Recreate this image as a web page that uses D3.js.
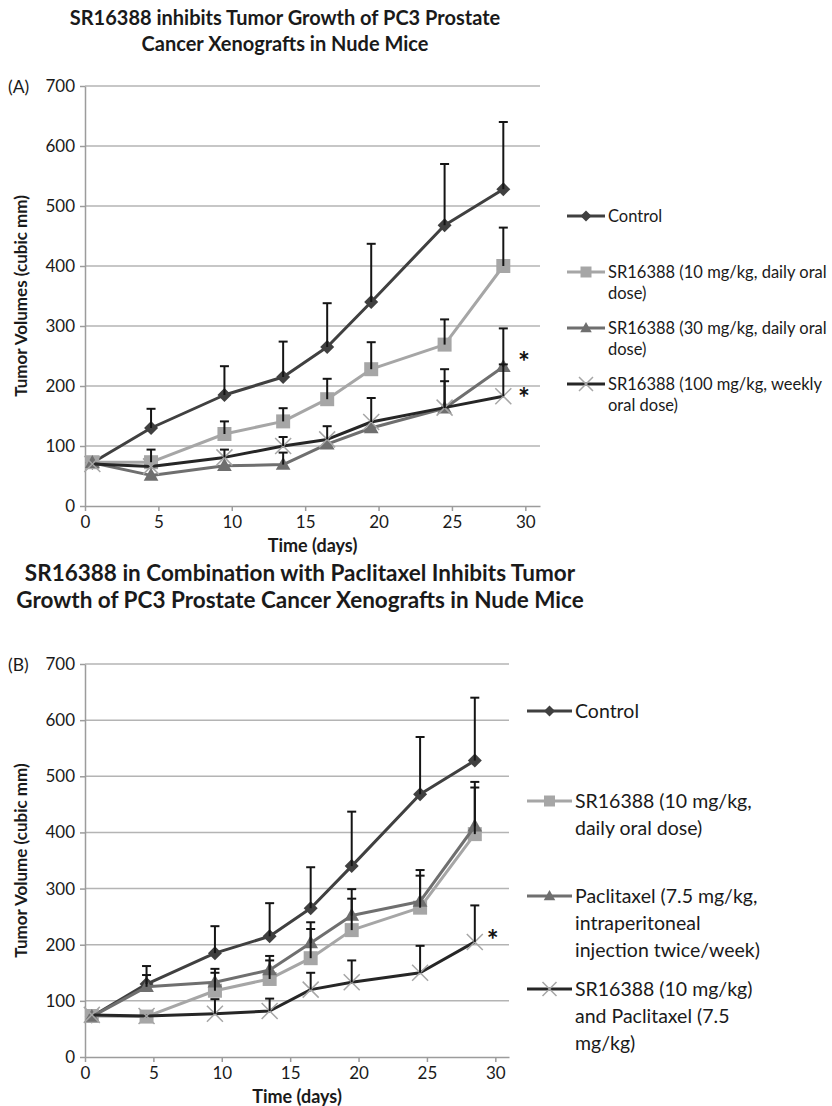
<!DOCTYPE html>
<html>
<head>
<meta charset="utf-8">
<script src="https://cdn.jsdelivr.net/npm/d3@7"></script>
<style>
  body { margin: 0; background: #fff; }
  svg { display: block; font-family: Lato, "Liberation Sans", sans-serif; }
</style>
</head>
<body>
<svg id="chart" width="832" height="1106"></svg>
<script>
// measurement days (same for every group)
const days = [0.5, 4.5, 9.5, 13.5, 16.5, 19.5, 24.5, 28.5];
const xTicks = [0, 5, 10, 15, 20, 25, 30];
const yTicks = [0, 100, 200, 300, 400, 500, 600, 700];

// panel A : mean tumor volume and top of the error bar
const controlA    = [72, 130, 185, 215, 265, 340, 468, 528];
const controlAErr = [72, 162, 233, 274, 338, 437, 570, 640];
const sr10A       = [73, 73, 120, 141, 178, 228, 269, 400];
const sr10AErr    = [73, 94, 141, 163, 212, 273, 311, 464];
const sr30A       = [72, 51, 67, 69, 103, 130, 163, 232];
const sr30AErr    = [72, 51, 67, 89, 103, 130, 208, 296];
const sr100A      = [70, 66, 81, 100, 111, 140, 164, 183];
const sr100AErr   = [70, 66, 94, 115, 133, 180, 228, 236];

// panel B
const controlB    = [72, 130, 185, 215, 265, 340, 468, 528];
const controlBErr = [72, 162, 233, 274, 338, 437, 570, 640];
const sr10B       = [73, 72, 118, 139, 176, 226, 266, 397];
const sr10BErr    = [73, 72, 150, 172, 228, 282, 323, 480];
const paclB       = [72, 125, 133, 155, 203, 252, 277, 411];
const paclBErr    = [72, 146, 157, 180, 240, 299, 333, 490];
const comboB      = [75, 73, 77, 82, 120, 133, 150, 205];
const comboBErr   = [75, 73, 103, 104, 150, 172, 198, 270];

// significance stars [day, volume]
const starsA = [[29.9, 247], [29.9, 186]];
const starsB = [[29.8, 216]];

const svg = d3.select('#chart');

// series looks
let styles = {
  diamond:  { line: '#404040', fill: '#404040', stroke: 'none' },
  square:   { line: '#a6a6a6', fill: '#a6a6a6', stroke: 'none' },
  triangle: { line: '#6f6f6f', fill: '#6f6f6f', stroke: 'none' },
  cross:    { line: '#262626', fill: 'none', stroke: '#a6a6a6' }
};

function markerPath(shape, r) {
  if (shape === 'diamond') return 'M0,' + (-r) + 'L' + r + ',0L0,' + r + 'L' + (-r) + ',0Z';
  if (shape === 'square') return 'M' + (-r) + ',' + (-r) + 'H' + r + 'V' + r + 'H' + (-r) + 'Z';
  if (shape === 'triangle') return 'M0,' + (-r * 1.1) + 'L' + (r * 1.05) + ',' + (r * 0.75) + 'L' + (-r * 1.05) + ',' + (r * 0.75) + 'Z';
  return 'M' + (-r) + ',' + (-r) + 'L' + r + ',' + r + 'M' + (-r) + ',' + r + 'L' + r + ',' + (-r);
}

function drawPanel(p) {
  let g = svg.append('g');

  let xScale = d3.scaleLinear().domain([0, 31]).range([p.left, p.right]);
  let yScale = d3.scaleLinear().domain([0, 700]).range([p.bottom, p.top]);

  // title
  p.title.forEach(function(t, i) {
    g.append('text')
      .attr('x', p.titleX).attr('y', p.titleY[i])
      .attr('text-anchor', 'middle')
      .attr('font-weight', 'bold')
      .attr('font-size', p.titleSize)
      .attr('fill', '#1a1a1a')
      .text(t);
  });

  g.append('text')
    .attr('x', 8).attr('y', p.top + 7)
    .attr('font-size', 17.5).attr('fill', '#1a1a1a')
    .text(p.tag);

  // gridlines
  g.append('g')
    .selectAll('line')
    .data(yTicks.slice(1))
    .enter().append('line')
    .attr('x1', p.left).attr('x2', p.right)
    .attr('y1', function(d) { return yScale(d); })
    .attr('y2', function(d) { return yScale(d); })
    .attr('stroke', '#b4b4b4').attr('stroke-width', 1.5);

  // axes
  let xAxis = g.append('g')
    .attr('transform', 'translate(0,' + p.bottom + ')')
    .call(d3.axisBottom(xScale).tickValues(xTicks).tickSize(5).tickPadding(5).tickSizeOuter(0));
  let yAxis = g.append('g')
    .attr('transform', 'translate(' + p.left + ',0)')
    .call(d3.axisLeft(yScale).tickValues(yTicks).tickSize(5).tickPadding(5).tickSizeOuter(0));
  [xAxis, yAxis].forEach(function(a) {
    a.selectAll('path, line').attr('stroke', '#9c9c9c').attr('stroke-width', 1.5);
    a.selectAll('text').attr('font-size', 17).attr('fill', '#1a1a1a').attr('font-family', 'Lato, sans-serif');
  });

  // axis titles
  g.append('text')
    .attr('x', (p.left + p.right) / 2).attr('y', p.bottom + 46)
    .attr('text-anchor', 'middle').attr('font-weight', 'bold').attr('font-size', 18)
    .attr('fill', '#1a1a1a')
    .text('Time (days)');
  g.append('text')
    .attr('transform', 'translate(' + 27 + ',' + ((p.top + p.bottom) / 2) + ') rotate(-90)')
    .attr('text-anchor', 'middle').attr('font-weight', 'bold').attr('font-size', 17)
    .attr('fill', '#1a1a1a')
    .text(p.yTitle);

  let line = d3.line()
    .x(function(d, i) { return xScale(days[i]); })
    .y(function(d) { return yScale(d); });

  // series lines and markers
  p.series.forEach(function(s) {
    let st = styles[s.shape];
    g.append('path')
      .datum(s.values)
      .attr('d', line)
      .attr('fill', 'none')
      .attr('stroke', st.line)
      .attr('stroke-width', 3)
      .attr('stroke-linejoin', 'round');

    g.selectAll(null)
      .data(s.values)
      .enter().append('path')
      .attr('transform', function(d, i) { return 'translate(' + xScale(days[i]) + ',' + yScale(d) + ')'; })
      .attr('d', markerPath(s.shape, s.shape === 'cross' ? 8 : 7))
      .attr('fill', st.fill)
      .attr('stroke', st.stroke)
      .attr('stroke-width', 1.5);
  });

  // error bars (upper half only)
  p.series.forEach(function(s) {
    let eb = g.append('g').attr('stroke', '#151515').attr('stroke-width', 2);
    s.values.forEach(function(v, i) {
      let top = s.err[i];
      if (top <= v) return;
      let x = xScale(days[i]);
      eb.append('line').attr('x1', x).attr('x2', x).attr('y1', yScale(v)).attr('y2', yScale(top));
      eb.append('line').attr('x1', x - 4.5).attr('x2', x + 4.5).attr('y1', yScale(top)).attr('y2', yScale(top));
    });
  });

  // stars
  g.selectAll(null)
    .data(p.stars)
    .enter().append('text')
    .attr('x', function(d) { return xScale(d[0]); })
    .attr('y', function(d) { return yScale(d[1]) + 14; })
    .attr('text-anchor', 'middle')
    .attr('font-weight', 'bold').attr('font-size', 28)
    .attr('fill', '#111')
    .text('*');

  // legend
  p.series.forEach(function(s, k) {
    let st = styles[s.shape];
    let ly = p.legendY[k];
    let lg = g.append('g');
    lg.append('line')
      .attr('x1', p.legendX).attr('x2', p.legendX + p.legendLine)
      .attr('y1', ly).attr('y2', ly)
      .attr('stroke', st.line).attr('stroke-width', 3);
    lg.append('path')
      .attr('transform', 'translate(' + (p.legendX + p.legendLine / 2) + ',' + ly + ')')
      .attr('d', markerPath(s.shape, s.shape === 'cross' ? 7 : 5.5))
      .attr('fill', st.fill).attr('stroke', st.stroke).attr('stroke-width', 1.5);
    s.label.forEach(function(t, j) {
      lg.append('text')
        .attr('x', p.legendX + p.legendLine + 3)
        .attr('y', ly + j * p.legendLeading)
        .attr('dy', '0.35em')
        .attr('font-size', p.legendSize)
        .attr('fill', '#1a1a1a')
        .text(t);
    });
  });
}

drawPanel({
  top: 86, bottom: 506, left: 85, right: 540,
  title: ['SR16388 inhibits Tumor Growth of PC3 Prostate', 'Cancer Xenografts in Nude Mice'],
  titleX: 285, titleY: [25, 51], titleSize: 20,
  tag: '(A)',
  yTitle: 'Tumor Volumes (cubic mm)',
  stars: starsA,
  legendX: 567, legendLine: 38, legendSize: 16.5, legendLeading: 21,
  legendY: [216, 272, 328, 384],
  series: [
    { shape: 'diamond', values: controlA, err: controlAErr, label: ['Control'] },
    { shape: 'square', values: sr10A, err: sr10AErr, label: ['SR16388 (10 mg/kg, daily oral', 'dose)'] },
    { shape: 'triangle', values: sr30A, err: sr30AErr, label: ['SR16388 (30 mg/kg, daily oral', 'dose)'] },
    { shape: 'cross', values: sr100A, err: sr100AErr, label: ['SR16388 (100 mg/kg, weekly', 'oral dose)'] }
  ]
});

drawPanel({
  top: 664, bottom: 1057, left: 85, right: 509,
  title: ['SR16388 in Combination with Paclitaxel Inhibits Tumor', 'Growth of PC3 Prostate Cancer Xenografts in Nude Mice'],
  titleX: 300, titleY: [581, 608], titleSize: 22.5,
  tag: '(B)',
  yTitle: 'Tumor Volume (cubic mm)',
  stars: starsB,
  legendX: 527, legendLine: 45, legendSize: 19.5, legendLeading: 27,
  legendY: [711, 801, 896, 989],
  series: [
    { shape: 'diamond', values: controlB, err: controlBErr, label: ['Control'] },
    { shape: 'square', values: sr10B, err: sr10BErr, label: ['SR16388 (10 mg/kg,', 'daily oral dose)'] },
    { shape: 'triangle', values: paclB, err: paclBErr, label: ['Paclitaxel (7.5 mg/kg,', 'intraperitoneal', 'injection twice/week)'] },
    { shape: 'cross', values: comboB, err: comboBErr, label: ['SR16388 (10 mg/kg)', 'and Paclitaxel (7.5', 'mg/kg)'] }
  ]
});
</script>
</body>
</html>
